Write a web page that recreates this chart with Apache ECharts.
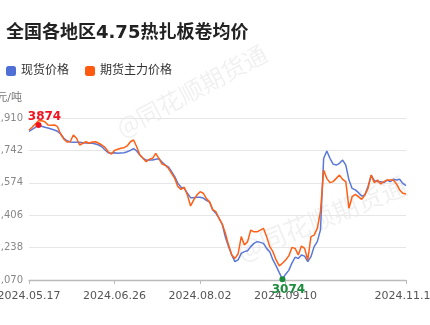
<!DOCTYPE html>
<html><head><meta charset="utf-8">
<script src="https://cdn.jsdelivr.net/npm/echarts@6/dist/echarts.min.js"></script>
<style>html,body{margin:0;padding:0;background:#fff}#c{width:430px;height:325px}</style>
</head><body><div id="c"></div>
<script>
const dates = [
"2024.05.17","2024.05.20","2024.05.21","2024.05.22","2024.05.23","2024.05.24","2024.05.27","2024.05.28","2024.05.29","2024.05.30","2024.05.31",
"2024.06.03","2024.06.04","2024.06.05","2024.06.06","2024.06.07","2024.06.11","2024.06.12","2024.06.13","2024.06.14",
"2024.06.17","2024.06.18","2024.06.19","2024.06.20","2024.06.21","2024.06.24","2024.06.25","2024.06.26","2024.06.27","2024.06.28",
"2024.07.01","2024.07.02","2024.07.03","2024.07.04","2024.07.05","2024.07.08","2024.07.09","2024.07.10","2024.07.11","2024.07.12",
"2024.07.15","2024.07.16","2024.07.17","2024.07.18","2024.07.19","2024.07.22","2024.07.23","2024.07.24","2024.07.25","2024.07.26",
"2024.07.29","2024.07.30","2024.07.31","2024.08.01","2024.08.02","2024.08.05","2024.08.06","2024.08.07","2024.08.08","2024.08.09",
"2024.08.12","2024.08.13","2024.08.14","2024.08.15","2024.08.16","2024.08.19","2024.08.20","2024.08.21","2024.08.22","2024.08.23",
"2024.08.26","2024.08.27","2024.08.28","2024.08.29","2024.08.30","2024.09.02","2024.09.03","2024.09.04","2024.09.05","2024.09.06",
"2024.09.09","2024.09.10","2024.09.11","2024.09.12","2024.09.13","2024.09.18","2024.09.19","2024.09.20","2024.09.23","2024.09.24",
"2024.09.25","2024.09.26","2024.09.27","2024.09.30","2024.10.08","2024.10.09","2024.10.10","2024.10.11","2024.10.14","2024.10.15",
"2024.10.16","2024.10.17","2024.10.18","2024.10.21","2024.10.22","2024.10.23","2024.10.24","2024.10.25","2024.10.28","2024.10.29",
"2024.10.30","2024.10.31","2024.11.01","2024.11.04","2024.11.05","2024.11.06","2024.11.07","2024.11.08","2024.11.11","2024.11.12"
];
const spotPrice = [
3841,3851,3862,3874,3867,3862,3858,3853,3848,3841,
3827,3805,3792,3786,3784,3784,3784,3782,3780,3779,
3779,3775,3770,3761,3744,3730,3727,3730,3727,3729,
3730,3735,3742,3751,3739,3718,3701,3691,3692,3692,
3696,3699,3682,3666,3657,3632,3606,3571,3551,3545,
3520,3497,3497,3499,3499,3495,3483,3474,3433,3416,
3390,3359,3291,3243,3200,3165,3174,3208,3217,3222,
3243,3260,3269,3265,3260,3234,3217,3174,3143,3108,
3074,3100,3120,3158,3188,3182,3200,3194,3165,3191,
3243,3269,3330,3700,3739,3701,3671,3666,3675,3692,
3666,3588,3545,3537,3523,3505,3511,3554,3614,3585,
3580,3580,3575,3588,3580,3592,3588,3592,3571,3559
];
const futuresPrice = [
3848,3862,3879,3896,3896,3891,3874,3872,3874,3865,
3827,3800,3786,3787,3822,3805,3770,3779,3787,3779,
3786,3787,3779,3770,3758,3735,3723,3742,3748,3753,
3756,3765,3787,3796,3761,3718,3701,3683,3696,3701,
3727,3701,3671,3665,3649,3623,3597,3554,3540,3551,
3511,3454,3485,3511,3528,3520,3492,3475,3435,3424,
3390,3359,3312,3251,3200,3182,3205,3295,3251,3269,
3329,3320,3320,3329,3338,3295,3243,3217,3174,3143,
3157,3174,3195,3238,3234,3200,3246,3234,3174,3295,
3303,3338,3424,3640,3597,3575,3580,3597,3614,3592,
3580,3442,3502,3514,3502,3488,3511,3545,3614,3575,
3588,3568,3580,3588,3588,3588,3568,3537,3520,3516
];
const yTicks = [3070,3238,3406,3574,3742,3910];
const seriesNames = ["现货价格","期货主力价格"];
const labelStep = 27;

const FONT = "'DejaVu Sans','Noto Sans CJK SC',sans-serif";
const chart = echarts.init(document.getElementById('c'), null, {renderer:'canvas'});
const lastIdx = dates.length - 1;
const showIdx = (i) => (i % labelStep === 0 && i <= lastIdx - labelStep) || i === lastIdx;

chart.setOption({
  animation: false,
  backgroundColor: '#fff',
  title: {
    text: '全国各地区4.75热扎板卷均价',
    left: 1, top: 19,
    textStyle: {fontSize: 18, fontWeight: 'bold', color: '#222', fontFamily: FONT}
  },
  legend: {
    left: 1, top: 60,
    icon: 'roundRect', itemWidth: 10, itemHeight: 10, itemGap: 16,
    textStyle: {fontSize: 12, color: '#333', fontFamily: FONT},
    data: seriesNames
  },
  graphic: [
    {type:'text', x: 118, y: 130, rotation: 28*Math.PI/180, silent: true, z: -10,
     style:{text:'@同花顺期货通', fill:'rgba(0,0,0,0.06)', font:'24px "Noto Sans CJK SC"', verticalAlign:'middle'}},
    {type:'text', x: 238, y: 252, rotation: 22*Math.PI/180, silent: true, z: -10,
     style:{text:'@同花顺期货通', fill:'rgba(0,0,0,0.06)', font:'26px "Noto Sans CJK SC"', verticalAlign:'middle'}}
  ],
  grid: {left: 29, right: 24, top: 118, bottom: 45, containLabel: false, outerBoundsMode: 'none'},
  xAxis: {
    type: 'category', boundaryGap: false, data: dates,
    axisLine: {lineStyle: {color: '#bbb', width: 1.3}},
    axisTick: {show: true, length: 4, interval: (i) => showIdx(i), lineStyle: {color: '#bbb'}},
    axisLabel: {interval: (i) => showIdx(i), margin: 11, color: '#555', fontSize: 11, fontFamily: FONT},
    splitLine: {show: false}
  },
  yAxis: [
    {type: 'value', min: yTicks[0], max: yTicks[yTicks.length-1], show: false, splitLine:{show:false}},
    {type: 'value', min: 0, max: yTicks.length-1, interval: 1, position: 'left',
     name: '元/吨', nameLocation: 'end', nameGap: 14,
     nameTextStyle: {align: 'right', padding: [0, 7, 0, 0], color: '#777', fontSize: 11, fontFamily: FONT},
     axisLine: {show: false}, axisTick: {show: false},
     axisLabel: {margin: 6, color: '#888', fontSize: 10, fontFamily: FONT,
       formatter: (v) => yTicks[v] !== undefined ? yTicks[v].toLocaleString('en-US') : ''},
     splitLine: {lineStyle: {color: '#e6e6e6', width: 1}}
    }
  ],
  series: [
    {
      name: seriesNames[0], type: 'line', data: spotPrice, yAxisIndex: 0,
      showSymbol: false, symbol: 'none', color: '#4f6fd6',
      lineStyle: {width: 1.5, color: '#5a78d8'},
      markPoint: {
        symbol: 'circle', symbolSize: 6,
        label: {show: true, fontWeight: 'bold', fontSize: 12, fontFamily: FONT, distance: 2},
        data: [
          {type: 'max', itemStyle: {color: '#f0141e'}, label: {position: 'top', color: '#f0141e', offset: [6, 3]}},
          {type: 'min', itemStyle: {color: '#1a8c3c'}, label: {position: 'bottom', color: '#1a8c3c', offset: [6, 0]}}
        ]
      }
    },
    {
      name: seriesNames[1], type: 'line', data: futuresPrice, yAxisIndex: 0,
      showSymbol: false, symbol: 'none', color: '#ff5a0f',
      lineStyle: {width: 1.5, color: '#ff5f14'}
    }
  ]
});
</script>
</body></html>
